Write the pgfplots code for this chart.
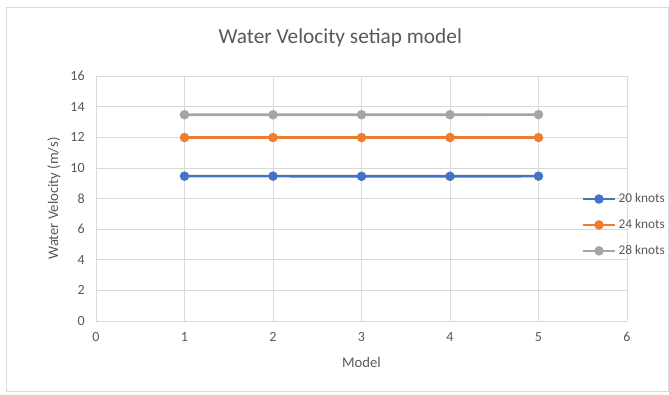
\documentclass[border=0pt]{standalone}
\usepackage{pgfplots}
\pgfplotsset{compat=1.18}
\usepackage{fontspec}
\setmainfont{Carlito}
\definecolor{cblue}{HTML}{4472C4}
\definecolor{corange}{HTML}{ED7D31}
\definecolor{cgray}{HTML}{A5A5A5}
\definecolor{txt}{HTML}{595959}
\definecolor{grd}{HTML}{D9D9D9}
\begin{document}
\begin{tikzpicture}[x=0.75pt,y=0.75pt]
\path[use as bounding box] (-96,-74) rectangle (573,321);
\draw[grd,line width=0.75pt] (-89,-71) rectangle (572,313);
\begin{axis}[
  at={(0,0)}, anchor=south west,
  scale only axis, width=398.25pt, height=183.75pt,
  xmin=0, xmax=6, ymin=0, ymax=16,
  xtick={0,...,6}, ytick={0,2,...,16},
  grid=major, major grid style={grd, line width=0.5pt},
  axis line style={grd}, axis x line*=bottom, axis y line*=left,
  x axis line style={-}, y axis line style={draw=none},
  tick style={draw=none},
  tick label style={font=\fontsize{10.5}{12}\selectfont, text=txt},
  xticklabel style={yshift=-5pt},
  yticklabel style={xshift=-5pt},
  /pgf/number format/assume math mode=true,
  xlabel={Model}, ylabel={Water Velocity (m/s)},
  every axis x label/.style={at={(axis description cs:0.5,0)}, anchor=center, yshift=-31pt,
    font=\fontsize{11}{13}\selectfont, text=txt},
  every axis y label/.style={at={(axis description cs:-0.079,0.5)}, anchor=center, rotate=90,
    font=\fontsize{11}{13}\selectfont, text=txt},
  title={Water Velocity setiap model},
  title style={font=\fontsize{16}{18}\selectfont, text=txt, at={(0.46,1)}, yshift=12pt},
  legend style={at={(0.915,0.392)}, anchor=west, draw=none, fill=none, inner sep=0pt,
    font=\fontsize{10}{12}\selectfont, text=txt, row sep=7pt},
  legend cell align=left,
  legend image code/.code={%
    \draw[mark repeat=2,mark phase=2] plot coordinates {(0cm,0cm) (0.41cm,0cm) (0.82cm,0cm)};},
  every axis plot/.append style={line width=2pt, mark=*, mark size=2.5pt},
]
\addplot[cblue, mark options={fill=cblue}] coordinates {(1,9.46) (2,9.46) (3,9.45) (4,9.45) (5,9.46)};
\addlegendentry{20 knots}
\addplot[corange, mark options={fill=corange}] coordinates {(1,11.98) (2,11.98) (3,11.98) (4,11.98) (5,11.98)};
\addlegendentry{24 knots}
\addplot[cgray, mark options={fill=cgray}] coordinates {(1,13.47) (2,13.47) (3,13.47) (4,13.47) (5,13.48)};
\addlegendentry{28 knots}
\end{axis}
\end{tikzpicture}
\end{document}
